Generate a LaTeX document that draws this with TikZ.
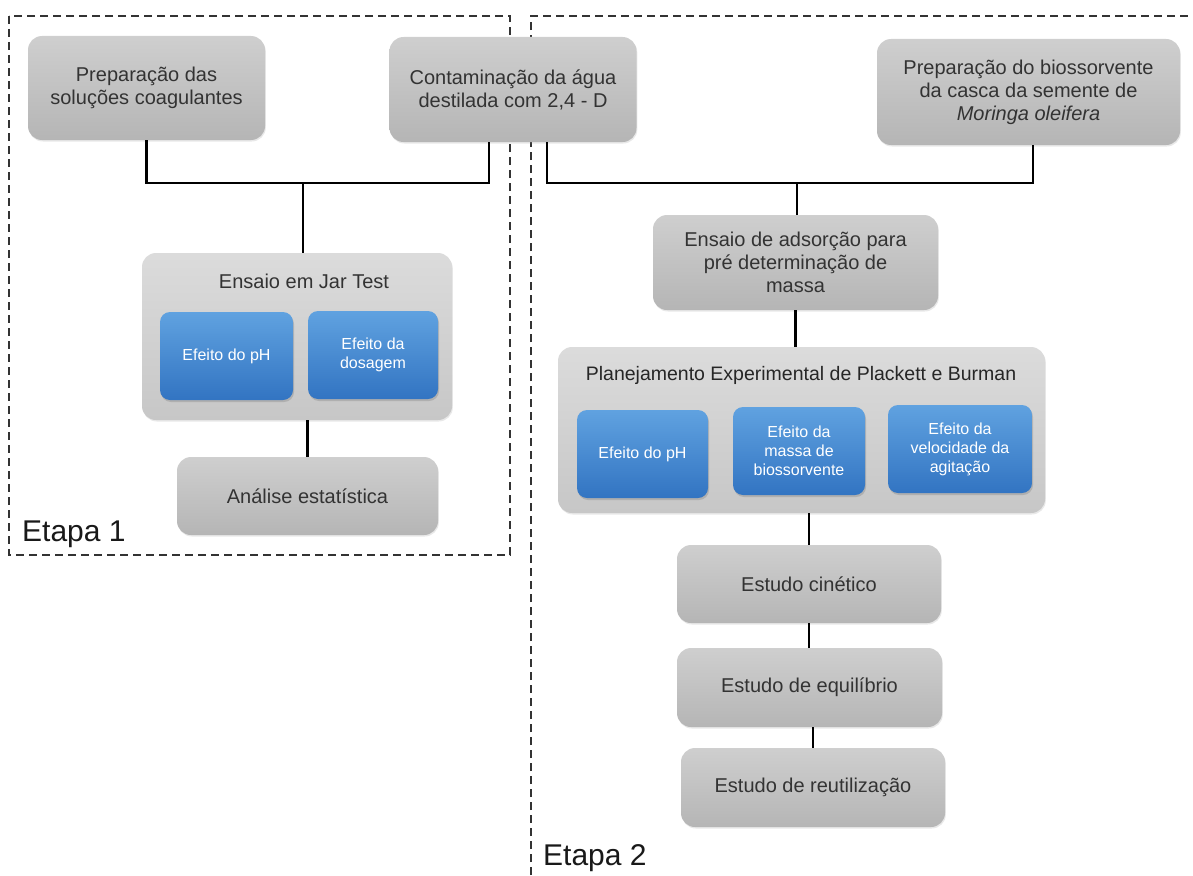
\documentclass[tikz,border=0pt]{standalone}
\usepackage{fontspec}
\setmainfont{Liberation Sans}
\usetikzlibrary{shadows}
\definecolor{efTop}{RGB}{96,162,224}
\definecolor{efBot}{RGB}{50,116,194}
\tikzset{
  etapa/.style={draw=black!80, line width=2pt, dash pattern=on 8pt off 5pt},
  wire/.style={draw=black, line width=2.6pt},
  graybox/.style={rounded corners=14pt, top color=black!19, bottom color=black!29,
    text=black!80, align=center, inner sep=0pt, font=\fontsize{20}{23}\selectfont,
    drop shadow={shadow xshift=0.8pt, shadow yshift=-1.5pt, opacity=0.18}},
  holder/.style={graybox, top color=black!14, bottom color=black!22},
  efbox/.style={rounded corners=10pt, top color=efTop, bottom color=efBot,
    text=white, align=center, inner sep=0pt, font=\fontsize{16}{19}\selectfont,
    drop shadow={shadow xshift=1pt, shadow yshift=-2pt, opacity=0.35}},
  etiqueta/.style={anchor=base west, inner sep=0pt, text=black!90, font=\fontsize{30}{34}\selectfont}
}
\begin{document}
\begin{tikzpicture}[x=1pt, y=-1pt]
\useasboundingbox (0,0) rectangle (1193,875);
% dashed frames of the two stages
\draw[etapa] (9,16) rectangle (510,555);
\draw[etapa] (531,875) -- (531,16) -- (1193,16);
\node[etiqueta] (et1) at (22,541) {Etapa 1};
\node[etiqueta] (et2) at (543,865) {Etapa 2};

% stage 1
\node[graybox, minimum width=237pt, minimum height=104pt] (prep) at (146.5,88) {Preparação das\\soluções coagulantes};
\node[graybox, minimum width=247pt, minimum height=105pt] (cont) at (513,89.5) {Contaminação da água\\destilada com 2,4 - D};
\node[holder, minimum width=310pt, minimum height=167pt] (jar) at (297,336.5) {};
\node[text=black!80, font=\fontsize{20}{23}\selectfont] (jart) at (304,281) {Ensaio em Jar Test};
\node[efbox, minimum width=133pt, minimum height=88pt] (ph1) at (226.5,356) {Efeito do pH};
\node[efbox, minimum width=130pt, minimum height=88pt] (dos) at (373,355) {Efeito da\\dosagem};
\node[graybox, minimum width=261pt, minimum height=78pt] (ana) at (307.5,496) {Análise estatística};

% stage 2
\node[graybox, minimum width=303pt, minimum height=106pt] (bio) at (1028.5,92) {Preparação do biossorvente\\da casca da semente de\\\textit{Moringa oleifera}};
\node[graybox, minimum width=285pt, minimum height=95pt] (ads) at (795.5,262.5) {Ensaio de adsorção para\\pré determinação de\\massa};
\node[holder, minimum width=487pt, minimum height=166pt] (plan) at (801.5,430) {};
\node[text=black!85, font=\fontsize{19.5}{23}\selectfont] (plant) at (801,375) {Planejamento Experimental de Plackett e Burman};
\node[efbox, minimum width=131pt, minimum height=88pt] (ph2) at (642.5,454) {Efeito do pH};
\node[efbox, minimum width=132pt, minimum height=88pt] (mas) at (799,451) {Efeito da\\massa de\\biossorvente};
\node[efbox, minimum width=144pt, minimum height=88pt] (vel) at (960,449) {Efeito da\\velocidade da\\agitação};
\node[graybox, minimum width=264pt, minimum height=78pt] (cin) at (809,584) {Estudo cinético};
\node[graybox, minimum width=265pt, minimum height=79pt] (equ) at (809.5,687.5) {Estudo de equilíbrio};
\node[graybox, minimum width=264pt, minimum height=79pt] (reu) at (813,787.5) {Estudo de reutilização};

% connectors
\coordinate (hub1) at (303,183);
\coordinate (hub2) at (797,183);
\draw[wire] (prep.south) |- (hub1) -| ([xshift=-24pt]cont.south);
\draw[wire] (hub1) -- (hub1 |- jar.north);
\draw[wire] (ana.north |- jar.south) -- (ana.north);
\draw[wire] ([xshift=34pt]cont.south) |- (hub2) -| ([xshift=4.5pt]bio.south);
\draw[wire] (hub2) -- (hub2 |- ads.north);
\draw[wire] (ads.south) -- (ads.south |- plan.north);
\draw[wire] (cin.north |- plan.south) -- (cin.north);
\draw[wire] (cin.south) -- (cin.south |- equ.north);
\draw[wire] (reu.north |- equ.south) -- (reu.north);
\end{tikzpicture}
\end{document}
